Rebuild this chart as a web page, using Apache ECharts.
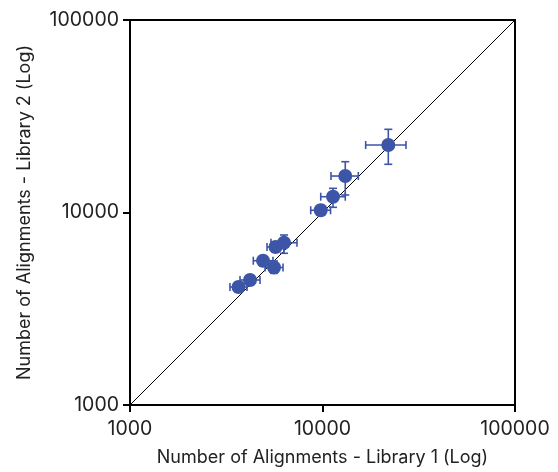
<!DOCTYPE html>
<html>
<head>
<meta charset="utf-8">
<script src="https://cdn.jsdelivr.net/npm/echarts@6/dist/echarts.min.js"></script>
<style>html,body{margin:0;padding:0;background:#fff}#c{width:558px;height:472px}</style>
</head>
<body>
<div id="c"></div>
<script>
// Library 1 (x) and Library 2 (y) alignment counts, with error ranges
const xValues = [21970, 13130, 11340, 9790, 6310, 5700, 4910, 5600, 4202, 3662];
const yValues = [22420, 15470, 12080, 10270, 6966, 6620, 5618, 5180, 4460, 4102];
const xLow    = [16760, 11070, 9790, 8685, 5400, 5150, 4370, 5030, 3728, 3307];
const xHigh   = [27150, 15350, 13130, 11010, 7370, 6310, 5530, 6235, 4735, 4053];
const yLow    = [17800, 12330, 10640, 9670, 6138, 6230, 5290, 4832, 4200, 3860];
const yHigh   = [27050, 18360, 13350, 10900, 7640, 7030, 5960, 5600, 4730, 4350];
const diagonalX = [1000, 100000];
const diagonalY = [1000, 100000];
const tickValues = [1000, 10000, 100000];

const xTitle = 'Number of Alignments - Library 1 (Log)';
const yTitle = 'Number of Alignments - Library 2 (Log)';

const pointColor = '#3d55a6';
const fontFamily = 'Inter, "Liberation Sans", sans-serif';

const points = xValues.map((x, i) => [x, yValues[i]]);
const errRows = xValues.map((x, i) => [x, yValues[i], xLow[i], xHigh[i], yLow[i], yHigh[i]]);
const diagonal = diagonalX.map((x, i) => [x, diagonalY[i]]);

const chart = echarts.init(document.getElementById('c'), null, {renderer: 'canvas'});

function axisCommon(name, isX) {
  return {
    type: 'log',
    logBase: 10,
    min: tickValues[0],
    max: tickValues[tickValues.length - 1],
    name: name,
    nameLocation: 'middle',
    nameGap: isX ? 44 : 96,
    nameTextStyle: {color: '#222', fontSize: 18, fontFamily: fontFamily},
    axisLine: {show: true, onZero: false, lineStyle: {color: '#000', width: 2}},
    axisTick: {show: true, length: 7, inside: false, lineStyle: {color: '#000', width: 2}},
    minorTick: {show: false},
    splitLine: {show: false},
    axisLabel: {
      color: '#222', fontSize: 19.5, fontFamily: fontFamily,
      margin: isX ? 14 : 11,
      formatter: v => String(Math.round(v))
    }
  };
}

chart.setOption({
  animation: false,
  backgroundColor: '#fff',
  grid: {left: 130, right: 43, top: 20, bottom: 67, show: true, borderColor: '#000', borderWidth: 2, containLabel: false},
  xAxis: axisCommon(xTitle, true),
  yAxis: axisCommon(yTitle, false),
  series: [
    {
      type: 'line',
      data: diagonal,
      showSymbol: false,
      symbol: 'none',
      lineStyle: {color: '#000', width: 1},
      z: 1,
      silent: true
    },
    {
      type: 'custom',
      data: errRows,
      encode: {x: [0, 2, 3], y: [1, 4, 5]},
      z: 2,
      renderItem: function (params, api) {
        const x = api.value(0), y = api.value(1);
        const l = api.coord([api.value(2), y]);
        const h = api.coord([api.value(3), y]);
        const b = api.coord([x, api.value(4)]);
        const t = api.coord([x, api.value(5)]);
        const cap = 4;
        const style = {stroke: pointColor, lineWidth: 1.6, fill: null};
        const line = (x1, y1, x2, y2) => ({type: 'line', shape: {x1, y1, x2, y2}, style});
        return {
          type: 'group',
          children: [
            line(l[0], l[1], h[0], h[1]),
            line(l[0], l[1] - cap, l[0], l[1] + cap),
            line(h[0], h[1] - cap, h[0], h[1] + cap),
            line(b[0], b[1], t[0], t[1]),
            line(b[0] - cap, b[1], b[0] + cap, b[1]),
            line(t[0] - cap, t[1], t[0] + cap, t[1])
          ]
        };
      }
    },
    {
      type: 'scatter',
      data: points,
      symbol: 'circle',
      symbolSize: 14,
      itemStyle: {color: pointColor, opacity: 1},
      z: 3
    }
  ]
});
</script>
</body>
</html>
